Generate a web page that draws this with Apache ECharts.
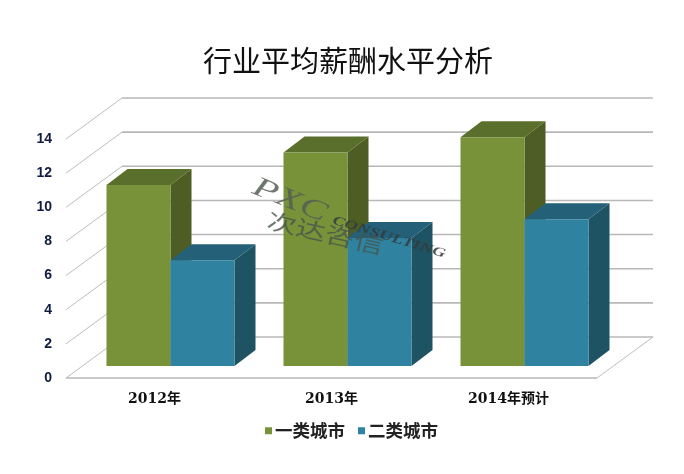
<!DOCTYPE html>
<html><head><meta charset="utf-8">
<style>html,body{margin:0;padding:0;background:#fff}#c{width:684px;height:474px}</style>
<script src="https://cdn.jsdelivr.net/npm/echarts@6/dist/echarts.min.js"></script>
</head><body><div id="c"></div>
<script>
var categories = ['2012年', '2013年', '2014年预计'];
var tier1 = [10.6, 12.5, 13.4];
var tier2 = [6.2, 7.5, 8.6];
var gridValues = [0, 2, 4, 6, 8, 10, 12, 14];

var wallDX = 56, wallDY = -41;      // depth of the chart box
var barDX = 16, barDY = -12;        // where the bars stand on the floor
var depthX = 21, depthY = -16;      // depth of each bar
var barW = 64;

function bar3d(faces, side) {
  return function (params, api) {
    var base = api.coord([api.value(0), 0]);
    var top = api.coord([api.value(0), api.value(1)]);
    var x0 = base[0] + barDX + (side < 0 ? -barW : 0), x1 = x0 + barW;
    var y0 = base[1] + barDY, y1 = top[1] + barDY;
    return {
      type: 'group',
      children: [
        { type: 'polygon', shape: { points: [[x1, y0], [x1 + depthX, y0 + depthY], [x1 + depthX, y1 + depthY], [x1, y1]] }, style: { fill: faces.side } },
        { type: 'polygon', shape: { points: [[x0, y1], [x1, y1], [x1 + depthX, y1 + depthY], [x0 + depthX, y1 + depthY]] }, style: { fill: faces.top } },
        { type: 'rect', shape: { x: x0, y: y1, width: barW, height: y0 - y1 }, style: { fill: faces.front } }
      ]
    };
  };
}

function wallLines(params, api) {
  var cs = params.coordSys;
  var v = api.value(1);
  var y = api.coord([0, v])[1];
  var L = cs.x, R = cs.x + cs.width;
  var kids = [
    { type: 'line', shape: { x1: L, y1: y, x2: L + wallDX, y2: y + wallDY }, style: { stroke: '#bdbdbd', lineWidth: 1 } },
    { type: 'line', shape: { x1: L + wallDX, y1: y + wallDY, x2: R + wallDX, y2: y + wallDY }, style: { stroke: '#b8b8b8', lineWidth: 1.6 } }
  ];
  if (v === 0) {
    kids.push({ type: 'line', shape: { x1: L, y1: y, x2: R, y2: y }, style: { stroke: '#b8b8b8', lineWidth: 1.4 } });
    kids.push({ type: 'line', shape: { x1: R, y1: y, x2: R + wallDX, y2: y + wallDY }, style: { stroke: '#bdbdbd', lineWidth: 1 } });
  }
  return { type: 'group', children: kids };
}

var chart = echarts.init(document.getElementById('c'), null, { renderer: 'canvas' });
chart.setOption({
  animation: false,
  backgroundColor: '#fff',
  title: {
    text: '行业平均薪酬水平分析', left: 343, top: 41, textAlign: 'center',
    textStyle: { fontFamily: '"Noto Sans CJK SC"', fontSize: 29, fontWeight: 'normal', color: '#111' }
  },
  legend: {
    data: ['一类城市', '二类城市'], left: 260, top: 417, icon: 'rect', itemWidth: 7, itemHeight: 7, itemGap: 13,
    textStyle: { fontFamily: '"Noto Sans CJK SC"', fontSize: 17.5, fontWeight: 'bold', color: '#222', padding: [0, 0, 0, -2] }
  },
  grid: { left: 66, right: 87, top: 139, bottom: 96 },
  xAxis: {
    type: 'category', data: categories,
    axisLine: { show: false }, axisTick: { show: false }, splitLine: { show: false },
    axisLabel: { margin: 14, fontFamily: '"DejaVu Serif","Noto Sans CJK SC"', fontSize: 14, fontWeight: 'bold', color: '#111' }
  },
  yAxis: {
    type: 'value', min: 0, max: 14, interval: 2,
    axisLine: { show: false }, axisTick: { show: false }, splitLine: { show: false },
    axisLabel: { margin: 14, fontFamily: '"Liberation Sans"', fontSize: 14, fontWeight: 'bold', color: '#101c40' }
  },
  series: [
    { type: 'custom', name: 'walls', silent: true, renderItem: wallLines, z: 1,
      data: gridValues.map(function (v) { return [0, v]; }), encode: { x: 0, y: 1 } },
    { type: 'custom', name: '一类城市', z: 2, itemStyle: { color: '#78923a' },
      renderItem: bar3d({ front: '#78923a', top: '#5b6f2c', side: '#4d5d24' }, -1),
      data: tier1.map(function (v, i) { return [i, v]; }), encode: { x: 0, y: 1 } },
    { type: 'custom', name: '二类城市', z: 3, itemStyle: { color: '#2f83a0' },
      renderItem: bar3d({ front: '#2f83a0', top: '#246178', side: '#1e5364' }, 1),
      data: tier2.map(function (v, i) { return [i, v]; }), encode: { x: 0, y: 1 } }
  ],
  graphic: [
    { type: 'text', x: 259, y: 173, rotation: -22 * Math.PI / 180, scaleX: 1.47, z: 20,
      style: { text: 'PXC', font: 'italic 28px "Liberation Serif"', fill: 'rgba(85,95,85,0.85)' } },
    { type: 'text', x: 335, y: 214, rotation: -17 * Math.PI / 180, scaleX: 1.4, z: 20,
      style: { text: 'CONSULTING', font: 'italic bold 13px "Liberation Serif"', fill: 'rgba(50,60,60,0.85)' } },
    { type: 'text', x: 270, y: 209, rotation: -13 * Math.PI / 180, scaleX: 1.35, z: 20,
      style: { text: '次达咨信', font: '22px "Noto Sans CJK SC"', fill: 'rgba(70,85,75,0.8)' } }
  ]
});
</script></body></html>
